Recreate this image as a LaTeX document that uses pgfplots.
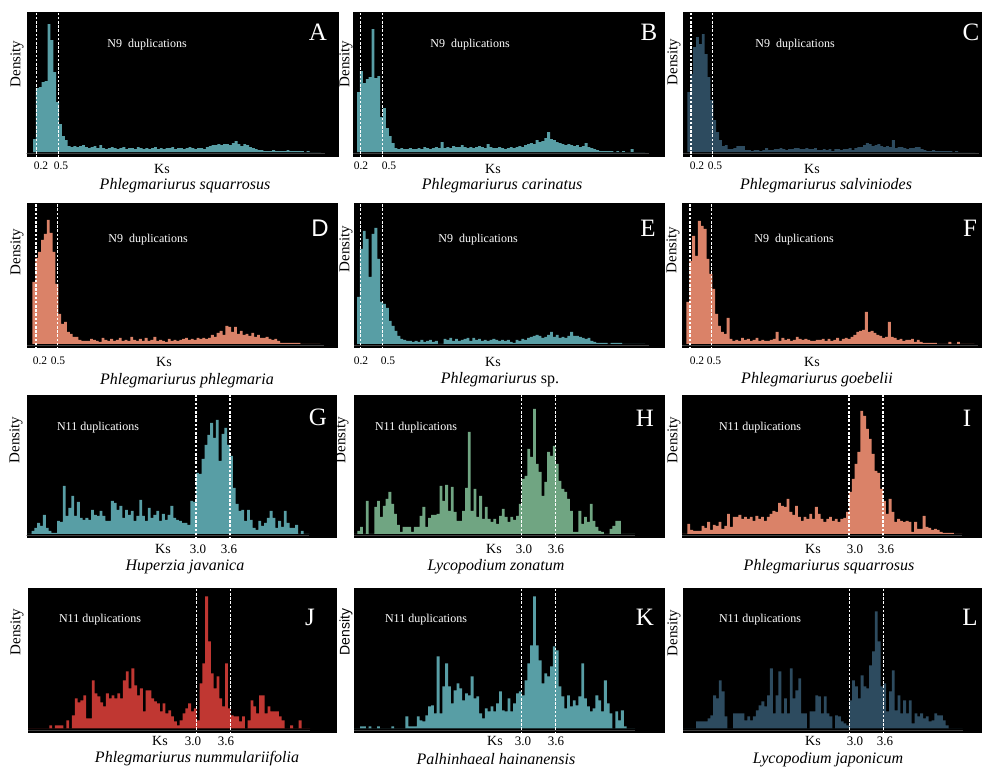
\documentclass[border=0pt]{standalone}
\usepackage{fontspec}
\setmainfont{Liberation Serif}
\newfontfamily\sansf{Liberation Sans}
\usepackage{pgfplots}
\usepackage{pgfplotstable}
\pgfplotsset{compat=1.18}
\definecolor{cteal}{RGB}{88,158,165}
\definecolor{cslate}{RGB}{45,75,95}
\definecolor{csalmon}{RGB}{218,130,104}
\definecolor{cgreen}{RGB}{112,165,130}
\definecolor{cred}{RGB}{192,55,50}

\pgfplotstableread{
x A B C D E F
0.15 13 60 60 62 47 42
0.19 64 81 78 86 95 83
0.23 65 69 105 92 113 108
0.27 70 73 115 104 105 88
0.31 71 75 108 110 67 123
0.35 128 123 118 124 110 118
0.39 112 74 98 111 116 115
0.43 80 76 75 92 85 85
0.47 50 35 52 60 42 70
0.51 28 44 32 30 40 55
0.55 16 24 20 20 36 30
0.59 12 16 12 22 23 18
0.63 6 9 6 12 18 12
0.67 5 4 7 10 13 10
0.71 6 3 3 7 8 26
0.75 5 4 3 7 5 5
0.79 6 3 4 4 4 3
0.83 7 3 6 3 3 4
0.87 5 4 6 3 3 3
0.91 4 3 6 3 2 6
0.95 5 3 2 5 3 4
0.99 6 4 2 4 2 5
1.03 4 3 1 3 4 3
1.07 7 5 2 2 2 4
1.11 4 4 2 6 3 6
1.15 3 3 1 4 4 3
1.19 4 4 2 3 2 4
1.23 5 5 4 5 3 3
1.27 4 4 2 3 0 3
1.31 3 10 2 4 0 4
1.35 4 4 3 6 5 5
1.39 5 5 3 3 4 12
1.43 3 4 4 4 6 3
1.47 4 6 3 3 3 6
1.51 4 5 2 7 5 4
1.55 3 5 3 4 3 5
1.59 5 7 3 3 4 3
1.63 4 5 4 5 5 4
1.67 3 4 4 3 6 7
1.71 4 5 3 6 3 5
1.75 3 4 3 3 6 4
1.79 4 5 4 4 4 5
1.83 5 6 3 7 5 4
1.87 3 5 3 3 3 3
1.91 4 4 4 4 4 3
1.95 3 8 2 3 3 4
1.99 4 5 2 2 4 4
2.03 4 4 3 5 5 5
2.07 5 4 2 3 4 3
2.11 3 5 3 4 3 5
2.15 4 4 1 3 4 3
2.19 4 3 3 4 3 4
2.23 3 4 3 5 4 6
2.27 4 5 2 6 2 3
2.31 5 4 3 4 1 5
2.35 4 5 3 5 4 6
2.39 3 6 4 4 3 5
2.43 4 5 2 6 5 7
2.47 4 7 4 5 4 9
2.51 3 8 5 6 6 12
2.55 5 9 5 5 7 13
2.59 6 8 7 6 8 14
2.63 7 12 9 9 9 32
2.67 7 10 8 7 8 12
2.71 8 11 6 11 6 13
2.75 7 14 7 13 7 11
2.79 8 20 8 9 9 9
2.83 8 13 6 18 12 8
2.87 7 12 5 17 7 6
2.91 9 10 6 12 9 7
2.95 11 9 5 17 6 22
2.99 8 8 12 10 7 7
3.03 6 7 4 13 6 6
3.07 8 8 5 9 8 4
3.11 7 7 5 10 12 5
3.15 5 6 4 8 8 3
3.19 4 7 3 11 8 4
3.23 3 5 4 7 7 4
3.27 2 6 4 9 6 5
3.31 2 9 5 6 5 2
3.35 1 5 5 6 6 4
3.39 1 4 3 7 3 2
3.43 1 3 2 5 2 1
3.47 2 2 1 4 1 1
3.51 1 1 1 5 1 1
3.55 1 1 2 3 1 1
3.59 1 1 1 1 1 1
3.63 1 1 1 1 0 0
3.67 2 1 1 1 1 0
3.71 1 0 1 1 1 0
3.75 1 1 1 1 1 0
3.79 1 0 1 1 1 2
3.83 1 1 0 1 0 0
3.87 1 0 1 0 0 0
3.91 0 0 0 0 0 2
3.95 1 3 0 0 0 0
3.99 0 0 0 0 0 0
4.03 0 0 0 0 0 0
4.07 0 0 0 0 0 0
4.11 0 0 0 0 0 0
4.15 0 0 0 0 0 0
}\tabN

\pgfplotstableread{
x G H I J K L
0.00 0 0 0 0 0 0
0.05 0 0 0 0 0 0
0.10 3 3 0 0 0 0
0.15 6 7 10 0 2 0
0.20 11 0 4 0 2 0
0.25 8 33 3 0 0 0
0.30 19 0 3 0 2 7
0.35 6 0 3 0 0 7
0.40 3 27 8 3 0 7
0.45 1 33 6 0 2 7
0.50 1 17 12 3 0 10
0.55 13 28 4 3 0 13
0.60 12 35 9 3 0 33
0.65 48 42 8 0 0 30
0.70 18 30 12 8 2 48
0.75 26 20 5 0 0 37
0.80 38 9 8 13 0 12
0.85 18 2 20 30 0 0
0.90 32 7 7 26 0 0
0.95 16 7 17 28 12 15
1.00 14 7 17 33 2 15
1.05 16 2 19 10 2 15
1.10 14 7 15 10 2 15
1.15 24 7 17 48 12 8
1.20 19 18 15 35 8 12
1.25 18 27 17 32 7 8
1.30 23 7 13 26 13 12
1.35 18 16 18 22 22 18
1.40 13 19 15 35 23 23
1.45 13 19 17 30 15 27
1.50 33 20 13 33 72 22
1.55 31 48 17 30 15 33
1.60 24 33 20 35 42 60
1.65 28 49 23 30 65 15
1.70 16 23 22 48 42 33
1.75 24 47 31 57 25 57
1.80 19 22 28 40 38 15
1.85 23 13 27 60 45 30
1.90 13 13 35 43 40 15
1.95 18 23 22 33 28 60
2.00 34 46 19 40 35 30
2.05 18 102 28 17 33 38
2.10 13 23 17 38 52 50
2.15 26 45 13 38 30 15
2.20 16 17 17 30 32 15
2.25 19 38 15 27 15 0
2.30 23 15 20 25 10 17
2.35 13 27 15 17 20 17
2.40 20 15 27 25 17 33
2.45 14 12 20 15 22 32
2.50 19 15 15 18 17 15
2.55 28 10 12 12 25 32
2.60 16 18 15 7 37 15
2.65 14 25 17 3 18 12
2.70 13 17 13 8 17 0
2.75 11 12 15 15 30 13
2.80 11 17 12 20 17 12
2.85 9 14 15 25 25 7
2.90 33 18 16 17 35 5
2.95 32 30 22 20 37 3
3.00 61 55 42 8 33 28
3.05 60 58 55 45 48 48
3.10 75 85 70 65 65 42
3.15 89 77 82 132 83 30
3.20 99 125 123 87 132 53
3.25 111 70 118 55 83 42
3.30 96 62 105 40 68 40
3.35 114 38 95 52 45 63
3.40 73 52 80 30 55 77
3.45 100 82 63 22 52 117
3.50 106 78 61 65 62 87
3.55 89 88 45 20 82 42
3.60 78 70 33 13 78 45
3.65 46 53 20 12 42 17
3.70 30 45 35 12 32 37
3.75 23 42 22 7 20 58
3.80 24 35 12 12 33 18
3.85 13 23 15 0 22 33
3.90 24 2 13 8 28 15
3.95 14 2 12 28 23 28
4.00 6 23 13 22 32 15
4.05 4 10 12 15 65 28
4.10 13 17 2 33 30 5
4.15 8 12 12 33 22 15
4.20 11 30 5 15 17 12
4.25 16 13 5 22 20 15
4.30 23 7 18 17 33 10
4.35 16 3 7 17 28 12
4.40 6 2 6 17 17 7
4.45 13 0 4 12 48 8
4.50 7 0 5 8 25 15
4.55 23 5 4 0 15 13
4.60 11 8 2 0 0 13
4.65 6 13 1 3 17 8
4.70 6 13 1 0 8 3
4.75 9 0 1 0 18 0
4.80 0 0 1 8 2 0
4.85 3 0 0 0 0 0
4.90 0 0 0 0 0 0
4.95 0 0 0 0 0 0
5.00 0 0 0 0 0 0
}\tabM

\pgfplotsset{
  panel/.style={scale only axis, anchor=south west,
    axis background/.style={fill=black},
    axis line style={draw=none}, ticks=none, clip=true},
}
\tikzset{
  dl/.style={white, line width=1.1pt, dash pattern=on 2.6pt off 1.6pt},
  bl/.style={black!75!white, line width=0.5pt},
  lett/.style={white, inner sep=0pt, font=\fontsize{25}{27}\selectfont},
  dup/.style={white, inner sep=0pt, font=\fontsize{12}{14}\selectfont},
  dens/.style={black, inner sep=0pt, rotate=90, font=\fontsize{15}{17}\selectfont},
  ks/.style={black, inner sep=0pt, anchor=base, font=\fontsize{14}{16}\selectfont},
  tk/.style={black, inner sep=0pt, anchor=base, font=\fontsize{11.5}{13}\selectfont},
  tkb/.style={black, inner sep=0pt, anchor=base, font=\fontsize{13}{15}\selectfont},
  sp/.style={black, inner sep=0pt, anchor=base, font=\fontsize{16}{18}\selectfont\itshape},
}

\begin{document}
\begin{tikzpicture}
\useasboundingbox (0,0) rectangle (982pt,769pt);
\fill[white] (0,0) rectangle (982pt,769pt);

% ---------- Row 1 ----------
\begin{axis}[panel, at={(26.7pt,612.3pt)}, width=312.3pt, height=145pt,
  xmin=0.061, xmax=4.399, ymin=-4.5, ymax=140.5]
\addplot[bl] coordinates {(0,-1.5) (4.2,-1.5)};
\addplot[ybar interval, fill=cteal, draw=none] table[x=x,y=A]{\tabN};
\addplot[dl] coordinates {(0.2,-10) (0.2,150)};
\addplot[dl] coordinates {(0.5,-10) (0.5,150)};
\end{axis}
\begin{axis}[panel, at={(353pt,612.3pt)}, width=312pt, height=145pt,
  xmin=0.093, xmax=4.426, ymin=-4.5, ymax=140.5]
\addplot[bl] coordinates {(0,-1.5) (4.2,-1.5)};
\addplot[ybar interval, fill=cteal, draw=none] table[x=x,y=B]{\tabN};
\addplot[dl] coordinates {(0.2,-10) (0.2,150)};
\addplot[dl] coordinates {(0.5,-10) (0.5,150)};
\end{axis}
\begin{axis}[panel, at={(683pt,612.3pt)}, width=299pt, height=145pt,
  xmin=0.089, xmax=4.242, ymin=-4.5, ymax=140.5]
\addplot[bl] coordinates {(0,-1.5) (4.2,-1.5)};
\addplot[ybar interval, fill=cslate, draw=none] table[x=x,y=C]{\tabN};
\addplot[dl] coordinates {(0.2,-10) (0.2,150)};
\addplot[dl] coordinates {(0.5,-10) (0.5,150)};
\end{axis}

% ---------- Row 2 ----------
\begin{axis}[panel, at={(27pt,420.7pt)}, width=311pt, height=145pt,
  xmin=0.075, xmax=4.394, ymin=-4.5, ymax=140.5]
\addplot[bl] coordinates {(0,-1.5) (4.2,-1.5)};
\addplot[ybar interval, fill=csalmon, draw=none] table[x=x,y=D]{\tabN};
\addplot[dl] coordinates {(0.2,-10) (0.2,150)};
\addplot[dl] coordinates {(0.5,-10) (0.5,150)};
\end{axis}
\begin{axis}[panel, at={(354pt,420.7pt)}, width=311pt, height=145pt,
  xmin=0.107, xmax=4.426, ymin=-4.5, ymax=140.5]
\addplot[bl] coordinates {(0,-1.5) (4.2,-1.5)};
\addplot[ybar interval, fill=cteal, draw=none] table[x=x,y=E]{\tabN};
\addplot[dl] coordinates {(0.2,-10) (0.2,150)};
\addplot[dl] coordinates {(0.5,-10) (0.5,150)};
\end{axis}
\begin{axis}[panel, at={(682pt,420.7pt)}, width=300pt, height=145pt,
  xmin=0.089, xmax=4.256, ymin=-4.5, ymax=140.5]
\addplot[bl] coordinates {(0,-1.5) (4.2,-1.5)};
\addplot[ybar interval, fill=csalmon, draw=none] table[x=x,y=F]{\tabN};
\addplot[dl] coordinates {(0.2,-10) (0.2,150)};
\addplot[dl] coordinates {(0.5,-10) (0.5,150)};
\end{axis}

% ---------- Row 3 ----------
\begin{axis}[panel, at={(26.7pt,230.7pt)}, width=310.3pt, height=143.3pt,
  xmin=0.014, xmax=5.487, ymin=-4.5, ymax=138.8]
\addplot[bl] coordinates {(0,-1.5) (5.0,-1.5)};
\addplot[ybar interval, fill=cteal, draw=none] table[x=x,y=G]{\tabM};
\addplot[dl] coordinates {(3.0,-10) (3.0,150)};
\addplot[dl] coordinates {(3.6,-10) (3.6,150)};
\end{axis}
\begin{axis}[panel, at={(354pt,230.7pt)}, width=311pt, height=143.3pt,
  xmin=0.042, xmax=5.527, ymin=-4.5, ymax=138.8]
\addplot[bl] coordinates {(0,-1.5) (5.0,-1.5)};
\addplot[ybar interval, fill=cgreen, draw=none] table[x=x,y=H]{\tabM};
\addplot[dl] coordinates {(3.0,-10) (3.0,150)};
\addplot[dl] coordinates {(3.6,-10) (3.6,150)};
\end{axis}
\begin{axis}[panel, at={(682pt,230.7pt)}, width=300pt, height=143.3pt,
  xmin=0.055, xmax=5.346, ymin=-4.5, ymax=138.8]
\addplot[bl] coordinates {(0,-1.5) (5.0,-1.5)};
\addplot[ybar interval, fill=csalmon, draw=none] table[x=x,y=I]{\tabM};
\addplot[dl] coordinates {(3.0,-10) (3.0,150)};
\addplot[dl] coordinates {(3.6,-10) (3.6,150)};
\end{axis}

% ---------- Row 4 ----------
\begin{axis}[panel, at={(28pt,35.7pt)}, width=309pt, height=145pt,
  xmin=0.025, xmax=5.475, ymin=-5, ymax=140]
\addplot[bl] coordinates {(0,-1.5) (5.0,-1.5)};
\addplot[ybar interval, fill=cred, draw=none] table[x=x,y=J]{\tabM};
\addplot[dl] coordinates {(3.0,-10) (3.0,150)};
\addplot[dl] coordinates {(3.6,-10) (3.6,150)};
\end{axis}
\begin{axis}[panel, at={(354pt,35.7pt)}, width=311pt, height=145pt,
  xmin=0.042, xmax=5.527, ymin=-5, ymax=140]
\addplot[bl] coordinates {(0,-1.5) (5.0,-1.5)};
\addplot[ybar interval, fill=cteal, draw=none] table[x=x,y=K]{\tabM};
\addplot[dl] coordinates {(3.0,-10) (3.0,150)};
\addplot[dl] coordinates {(3.6,-10) (3.6,150)};
\end{axis}
\begin{axis}[panel, at={(683pt,35.7pt)}, width=299pt, height=145pt,
  xmin=0.067, xmax=5.340, ymin=-5, ymax=140]
\addplot[bl] coordinates {(0,-1.5) (5.0,-1.5)};
\addplot[ybar interval, fill=cslate, draw=none] table[x=x,y=L]{\tabM};
\addplot[dl] coordinates {(3.0,-10) (3.0,150)};
\addplot[dl] coordinates {(3.6,-10) (3.6,150)};
\end{axis}

% ---------- panel letters ----------
\node[lett] at (318pt,737pt) {A};
\node[lett] at (649pt,737pt) {B};
\node[lett] at (971pt,737pt) {C};
\node[lett, font=\fontsize{24}{26}\selectfont\sansf] at (320pt,541pt) {D};
\node[lett] at (648pt,541pt) {E};
\node[lett] at (970pt,541pt) {F};
\node[lett] at (318pt,352pt) {G};
\node[lett] at (645pt,351pt) {H};
\node[lett] at (967pt,351pt) {I};
\node[lett] at (310pt,152pt) {J};
\node[lett] at (645pt,152pt) {K};
\node[lett] at (970pt,152pt) {L};

% ---------- duplication labels ----------
\node[dup] at (147pt,724pt) {N9\ \ duplications};
\node[dup] at (470pt,724pt) {N9\ \ duplications};
\node[dup] at (795pt,724pt) {N9\ \ duplications};
\node[dup] at (148pt,529pt) {N9\ \ duplications};
\node[dup] at (478pt,529pt) {N9\ \ duplications};
\node[dup] at (794pt,529pt) {N9\ \ duplications};
\node[dup] at (98pt,341pt) {N11 duplications};
\node[dup] at (416pt,341pt) {N11 duplications};
\node[dup] at (760pt,341pt) {N11 duplications};
\node[dup] at (100pt,149pt) {N11 duplications};
\node[dup] at (426pt,149pt) {N11 duplications};
\node[dup] at (760pt,149pt) {N11 duplications};

% ---------- Density labels ----------
\node[dens] at (17pt,705pt) {Density};
\node[dens] at (346pt,705pt) {Density};
\node[dens] at (674pt,707pt) {Density};
\node[dens] at (17pt,517pt) {Density};
\node[dens] at (346pt,520pt) {Density};
\node[dens] at (673pt,519pt) {Density};
\node[dens] at (16pt,329pt) {Density};
\node[dens] at (342pt,329pt) {Density};
\node[dens] at (674pt,329pt) {Density};
\node[dens] at (17pt,137pt) {Density};
\node[dens, font=\fontsize{14}{16}\selectfont\sansf] at (346pt,137pt) {Density};
\node[dens] at (674pt,136pt) {Density};

% ---------- Ks labels ----------
\node[ks] at (162pt,595.5pt) {Ks};
\node[ks] at (493pt,595.5pt) {Ks};
\node[ks] at (812pt,595.5pt) {Ks};
\node[ks] at (164pt,402pt) {Ks};
\node[ks] at (493pt,402pt) {Ks};
\node[ks] at (812pt,402pt) {Ks};
\node[ks] at (163pt,215.5pt) {Ks};
\node[ks] at (494pt,215.5pt) {Ks};
\node[ks] at (813pt,215.5pt) {Ks};
\node[ks] at (160pt,23.5pt) {Ks};
\node[ks] at (495pt,23.5pt) {Ks};
\node[ks] at (813pt,23.5pt) {Ks};

% ---------- tick labels ----------
\node[tk] at (41pt,599.5pt) {0.2};  \node[tk] at (61pt,599.5pt) {0.5};
\node[tk] at (361pt,599.5pt) {0.2}; \node[tk] at (389pt,599.5pt) {0.5};
\node[tk] at (697pt,599.5pt) {0.2}; \node[tk] at (715pt,599.5pt) {0.5};
\node[tk] at (40pt,404.7pt) {0.2};  \node[tk] at (58pt,404.7pt) {0.5};
\node[tk] at (361pt,404.7pt) {0.2}; \node[tk] at (388pt,404.7pt) {0.5};
\node[tk] at (697pt,404.7pt) {0.2}; \node[tk] at (714pt,404.7pt) {0.5};
\node[tkb] at (198pt,215.5pt) {3.0}; \node[tkb] at (229pt,215.5pt) {3.6};
\node[tkb] at (524pt,215.5pt) {3.0}; \node[tkb] at (556pt,215.5pt) {3.6};
\node[tkb] at (855pt,215.5pt) {3.0}; \node[tkb] at (886pt,215.5pt) {3.6};
\node[tkb] at (193pt,23.5pt) {3.0}; \node[tkb] at (226pt,23.5pt) {3.6};
\node[tkb] at (523pt,23.5pt) {3.0}; \node[tkb] at (556pt,23.5pt) {3.6};
\node[tkb] at (855pt,23.5pt) {3.0}; \node[tkb] at (885pt,23.5pt) {3.6};

% ---------- species names ----------
\node[sp] at (185pt,579pt) {Phlegmariurus squarrosus};
\node[sp] at (502pt,579pt) {Phlegmariurus carinatus};
\node[sp] at (826pt,579pt) {Phlegmariurus salviniodes};
\node[sp] at (187pt,384.5pt) {Phlegmariurus phlegmaria};
\node[sp] at (500pt,385pt) {Phlegmariurus \upshape sp.};
\node[sp] at (817pt,385pt) {Phlegmariurus goebelii};
\node[sp] at (185pt,198.5pt) {Huperzia javanica};
\node[sp] at (496pt,198.5pt) {Lycopodium zonatum};
\node[sp] at (829pt,198.5pt) {Phlegmariurus squarrosus};
\node[sp] at (197pt,7pt) {Phlegmariurus nummulariifolia};
\node[sp] at (496pt,4.5pt) {Palhinhaeal hainanensis};
\node[sp] at (828pt,5.5pt) {Lycopodium japonicum};
\end{tikzpicture}
\end{document}
